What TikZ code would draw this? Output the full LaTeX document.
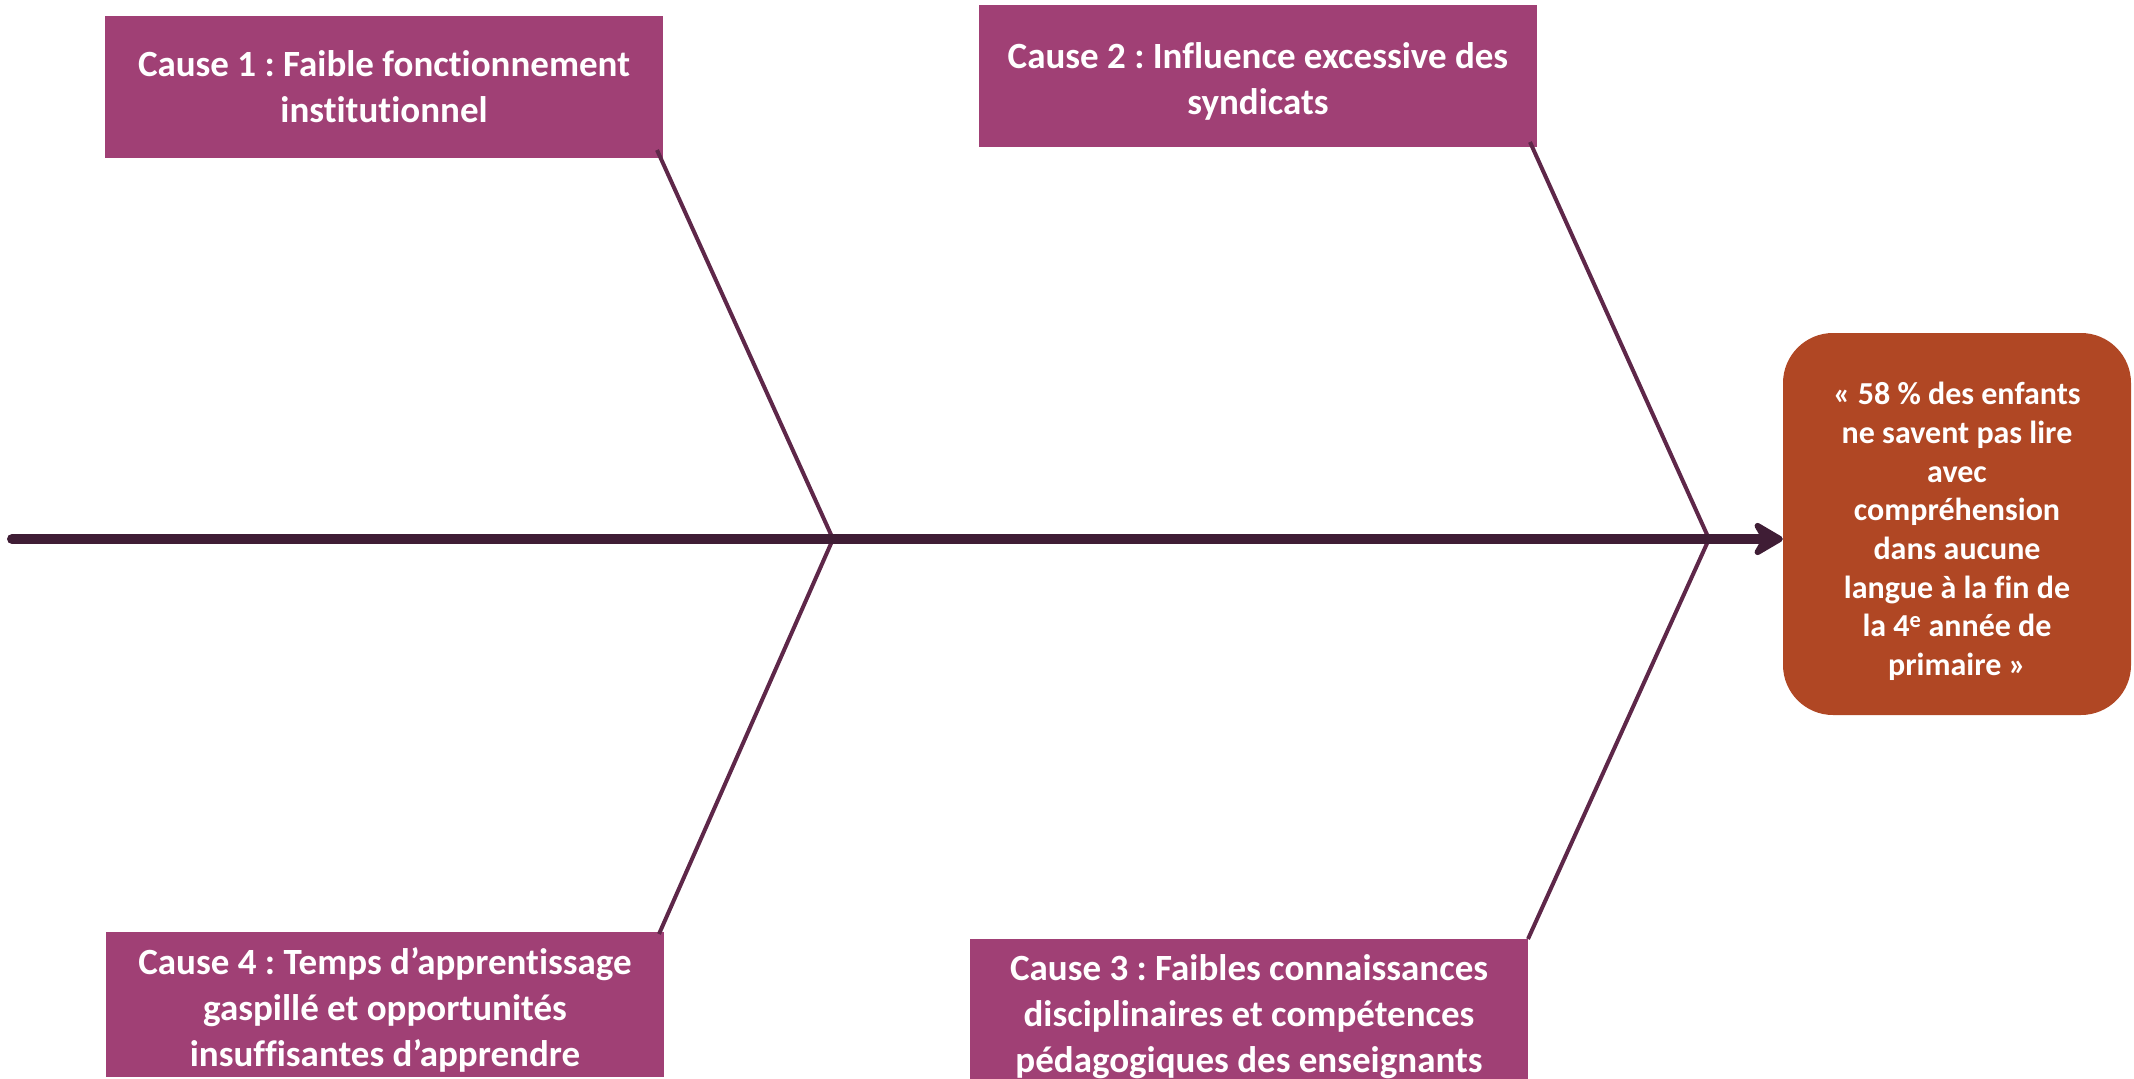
\documentclass[tikz,border=0pt]{standalone}
\usepackage{fontspec}
\setmainfont{Carlito}[Ligatures={NoCommon,NoContextual}]
\usetikzlibrary{arrows.meta}
\frenchspacing
\definecolor{causefill}{HTML}{A04075}
\definecolor{effectfill}{HTML}{B04724}
\definecolor{spine}{HTML}{3F1D35}
\definecolor{bone}{HTML}{5E2749}
\tikzset{
  causebox/.style={rectangle, fill=causefill, minimum width=558pt, inner sep=0pt},
  causetext/.style={text=white, font=\bfseries\fontsize{37}{46}\selectfont, align=center, inner sep=0pt},
  effectbox/.style={rectangle, rounded corners=50pt, fill=effectfill,
    minimum width=348pt, minimum height=382pt, inner sep=0pt},
  effecttext/.style={text=white, font=\bfseries\fontsize{32}{38.7}\selectfont, align=center, inner sep=0pt},
  spineline/.style={draw=spine, line width=10pt, line cap=round,
    -{Stealth[length=36pt, width=42pt, inset=12pt, round]}},
  boneline/.style={draw=bone, line width=4pt}
}
\begin{document}
\begin{tikzpicture}[x=1pt,y=-1pt]
\useasboundingbox (0,0) rectangle (2134,1079);
\node[causebox, minimum height=142pt] (c1) at (384,87) {};
\node[causetext] (t1) at (384,87) {Cause 1 : Faible fonctionnement\\institutionnel};
\node[causebox, minimum height=142pt] (c2) at (1258,76) {};
\node[causetext] (t2) at (1258,81.5) {Cause 2 : Influence excessive des\\syndicats};
\node[causebox, minimum height=145pt] (c4) at (385,1004.5) {};
\node[causetext] (t4) at (385,1009.5) {Cause 4 : Temps d’apprentissage\\gaspillé et opportunités\\insuffisantes d’apprendre};
\node[causebox, minimum height=152pt] (c3) at (1249,1015) {};
\node[causetext] (t3) at (1249,1016.5) {Cause 3 : Faibles connaissances\\disciplinaires et compétences\\pédagogiques des enseignants};
\node[effectbox] (e) at (1957,524) {};
\node[effecttext] (et) at (1957,531.5) {« 58 \% des enfants\\ne savent pas lire\\avec\\compréhension\\dans aucune\\langue à la fin de\\la 4\textsuperscript{e} année de\\primaire »};
\coordinate (tail) at (12,539);
\coordinate (j1) at (833,539);
\coordinate (j2) at (1709,539);
\coordinate (b1) at (657,150);
\coordinate (b4) at (659,934);
\coordinate (b2) at (1530,142);
\coordinate (b3) at (1528,939);
\draw[boneline] (b1) -- (j1) -- (b4);
\draw[boneline] (b2) -- (j2) -- (b3);
\draw[spineline] (tail) -- (tail -| e.west);
\end{tikzpicture}
\end{document}
